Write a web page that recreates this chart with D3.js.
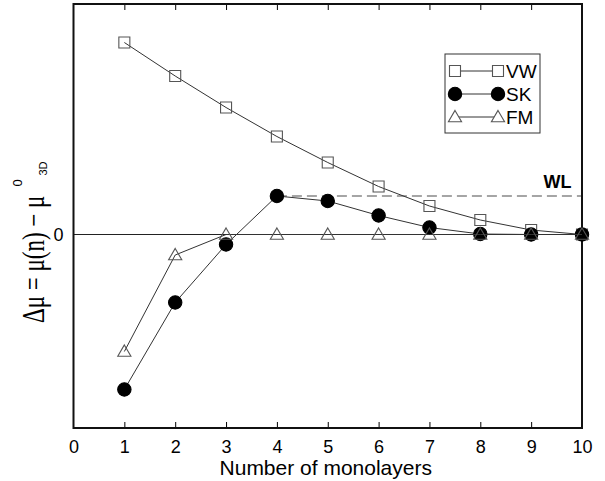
<!DOCTYPE html>
<html>
<head>
<meta charset="utf-8">
<script src="https://cdn.jsdelivr.net/npm/d3@7"></script>
<style>
  body { margin: 0; background: #fff; }
  svg { display: block; font-family: "Liberation Sans", Arial, Helvetica, sans-serif; }
</style>
</head>
<body>
<svg width="605" height="481"></svg>
<script>
  // data (arbitrary units, 0 = bulk)
  const layers = [1, 2, 3, 4, 5, 6, 7, 8, 9, 10];
  const vw = [1.92, 1.585, 1.27, 0.98, 0.72, 0.48, 0.285, 0.145, 0.045, 0];
  const sk = [-1.55, -0.68, -0.10, 0.385, 0.335, 0.19, 0.07, 0.005, 0, 0];
  const fm = [-1.17, -0.205, 0, 0, 0, 0, 0, 0, 0, 0];
  const wlLevel = 0.385;
  const xTicks = [0, 1, 2, 3, 4, 5, 6, 7, 8, 9, 10];
  const legendNames = ["VW", "SK", "FM"];

  const margin = { top: 4, left: 73.5, right: 23, bottom: 53 };
  const svgWidth = 605, svgHeight = 481;
  const width = svgWidth - margin.left - margin.right;
  const height = svgHeight - margin.top - margin.bottom;

  const xScale = d3.scaleLinear().domain([0, 10]).range([0, width]);
  const yScale = d3.scaleLinear().domain([-1.935, 2.305]).range([height, 0]);

  const svg = d3.select("svg");
  const g = svg.append("g").attr("transform", `translate(${margin.left},${margin.top})`);

  // zero line
  g.append("line")
    .attr("x1", 0).attr("x2", width)
    .attr("y1", yScale(0)).attr("y2", yScale(0))
    .attr("stroke", "#222").attr("stroke-width", 1);

  // WL dashed line
  g.append("line")
    .attr("x1", xScale(4)).attr("x2", width)
    .attr("y1", yScale(wlLevel)).attr("y2", yScale(wlLevel))
    .attr("stroke", "#888").attr("stroke-width", 1.3)
    .attr("stroke-dasharray", "10,5");

  g.append("text")
    .text("WL")
    .attr("x", xScale(9.5) + 1).attr("y", yScale(wlLevel) - 8)
    .attr("text-anchor", "middle")
    .style("font-size", "18px")
    .style("font-weight", "bold");

  // axes
  const xAxis = d3.axisBottom(xScale).tickValues(xTicks).tickSizeInner(-6).tickSizeOuter(0).tickPadding(12);
  const xAxisG = g.append("g").attr("class", "xAxis").attr("transform", `translate(0,${height})`).call(xAxis);
  xAxisG.selectAll("text").style("font-size", "18px").attr("fill", "#000");
  xAxisG.select(".domain").remove();
  xAxisG.selectAll(".tick line").filter(d => d === 0 || d === 10).remove();

  const topAxis = d3.axisTop(xScale).tickValues(xTicks.slice(1, 10)).tickSizeInner(-6).tickSizeOuter(0).tickFormat("");
  const topG = g.append("g").call(topAxis);
  topG.select(".domain").remove();

  const yAxis = d3.axisLeft(yScale).tickValues([0]).tickSize(0).tickPadding(10).tickFormat(d3.format("d"));
  const yAxisG = g.append("g").attr("class", "yAxis").call(yAxis);
  yAxisG.selectAll("text").style("font-size", "18px").attr("fill", "#000");
  yAxisG.select(".domain").remove();

  // frame
  g.append("rect")
    .attr("x", 0).attr("y", 0).attr("width", width).attr("height", height)
    .attr("fill", "none").attr("stroke", "#111").attr("stroke-width", 2);

  // series
  const series = [
    { name: "VW", values: vw, shape: d3.symbolSquare, size: 121, fill: "none" },
    { name: "SK", values: sk, shape: d3.symbolCircle, size: 140, fill: "#000" },
    { name: "FM", values: fm, shape: d3.symbolTriangle, size: 75, fill: "none" }
  ];

  const line = d3.line().x(d => xScale(d.x)).y(d => yScale(d.y));

  series.forEach(s => {
    const pts = layers.map((x, i) => ({ x: x, y: s.values[i] }));
    g.append("path")
      .datum(pts)
      .attr("d", line)
      .attr("fill", "none")
      .attr("stroke", "#333")
      .attr("stroke-width", 1);

    g.selectAll(".pt-" + s.name)
      .data(pts)
      .enter()
      .append("path")
      .attr("class", "pt-" + s.name)
      .attr("transform", d => `translate(${xScale(d.x)},${yScale(d.y) + (s.shape === d3.symbolTriangle ? 1 : 0)})`)
      .attr("d", d3.symbol().type(s.shape).size(s.size))
      .attr("fill", s.fill)
      .attr("stroke", s.fill === "none" ? "#555" : "#000")
      .attr("stroke-width", 1.1);
  });

  // legend
  const legend = g.append("g").attr("transform", "translate(371.5,50)");
  legend.append("rect")
    .attr("x", 0).attr("y", 0).attr("width", 95).attr("height", 79)
    .attr("fill", "#fff").attr("stroke", "#333").attr("stroke-width", 1);

  legendNames.forEach((name, i) => {
    const s = series.find(d => d.name === name);
    const ly = 17 + i * 23;
    legend.append("line")
      .attr("x1", 10).attr("x2", 53).attr("y1", ly).attr("y2", ly)
      .attr("stroke", "#333").attr("stroke-width", 1);
    [10, 53].forEach(lx => {
      legend.append("path")
        .attr("transform", `translate(${lx},${ly + (s.shape === d3.symbolTriangle ? 1 : 0)})`)
        .attr("d", d3.symbol().type(s.shape).size(s.size))
        .attr("fill", s.fill === "none" ? "#fff" : s.fill)
        .attr("stroke", s.fill === "none" ? "#555" : "#000")
        .attr("stroke-width", 1.1);
    });
    legend.append("text")
      .text(name)
      .attr("x", 61).attr("y", ly + 7)
      .style("font-size", "19px");
  });

  // axis titles
  svg.append("text")
    .text("Number of monolayers")
    .attr("x", margin.left + width / 2 - 2).attr("y", 475)
    .attr("text-anchor", "middle")
    .style("font-size", "21px");

  svg.append("text")
    .attr("transform", "translate(44,323) rotate(-90) scale(0.82,1.1)")
    .style("font-family", "'Liberation Serif', 'Times New Roman', serif")
    .style("font-size", "28px")
    .text("Δμ = μ(n) − μ");

  svg.append("text")
    .attr("transform", "translate(22,183) rotate(-90)")
    .attr("text-anchor", "middle")
    .style("font-size", "13px")
    .text("0");

  svg.append("text")
    .attr("transform", "translate(47,168.5) rotate(-90)")
    .attr("text-anchor", "middle")
    .style("font-size", "11px")
    .text("3D");
</script>
</body>
</html>
